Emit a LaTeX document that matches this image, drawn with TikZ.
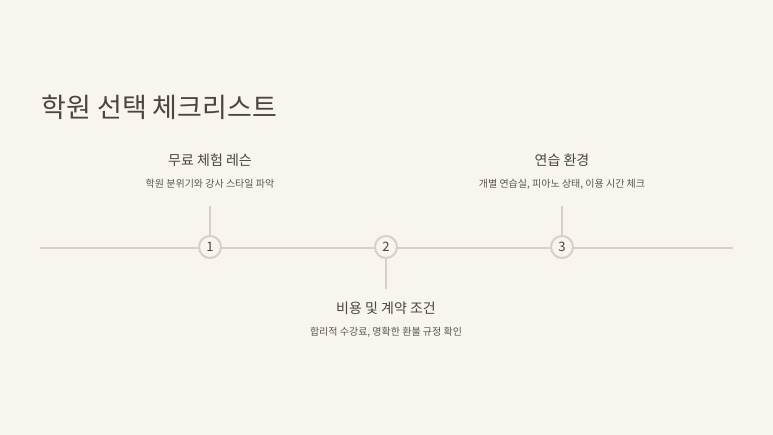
\documentclass[tikz,border=0pt]{standalone}
\usepackage{fontspec}
\setmainfont{Noto Sans CJK KR}
\definecolor{bg}{HTML}{F8F5EF}
\definecolor{ln}{HTML}{D6D1C8}
\definecolor{tx}{HTML}{4A4540}
\definecolor{sub}{HTML}{5A5550}
\tikzset{x=1pt,y=-1pt,
 ttl/.style={font=\fontsize{14}{16}\selectfont,text=tx,anchor=center},
 subt/.style={font=\fontsize{10}{12}\selectfont,text=sub,anchor=center},
 num/.style={circle,draw=ln,line width=2pt,fill=bg,minimum size=22pt,inner sep=0pt,font=\fontsize{13}{14}\selectfont,text=tx},
 tick/.style={draw=ln,line width=2.5pt}}
\begin{document}
\begin{tikzpicture}
\fill[bg] (0,0) rectangle (773,435);
\useasboundingbox (0,0) rectangle (773,435);
\node[anchor=west,font=\fontsize{27}{30}\selectfont,text=tx] (title) at (38,107) {학원 선택 체크리스트};
\coordinate (L) at (40,248); \coordinate (R) at (733,248);
\draw[line width=2.5pt,ln] (L) -- (R);
\coordinate (t1) at (210,206); \coordinate (t2) at (386,289); \coordinate (t3) at (562,206);
\draw[tick] (t1) -- (210,248); \draw[tick] (t2) -- (386,248); \draw[tick] (t3) -- (562,248);
\node[num] (n1) at (210,247) {1};
\node[num] (n2) at (386,247) {2};
\node[num] (n3) at (562,247) {3};
\node[ttl] (a1) at (210,160) {무료 체험 레슨};
\node[subt] (b1) at (210,184) {학원 분위기와 강사 스타일 파악};
\node[ttl] (a2) at (386,308) {비용 및 계약 조건};
\node[subt] (b2) at (386,332) {합리적 수강료, 명확한 환불 규정 확인};
\node[ttl] (a3) at (562,160) {연습 환경};
\node[subt] (b3) at (562,184) {개별 연습실, 피아노 상태, 이용 시간 체크};
\end{tikzpicture}
\end{document}
